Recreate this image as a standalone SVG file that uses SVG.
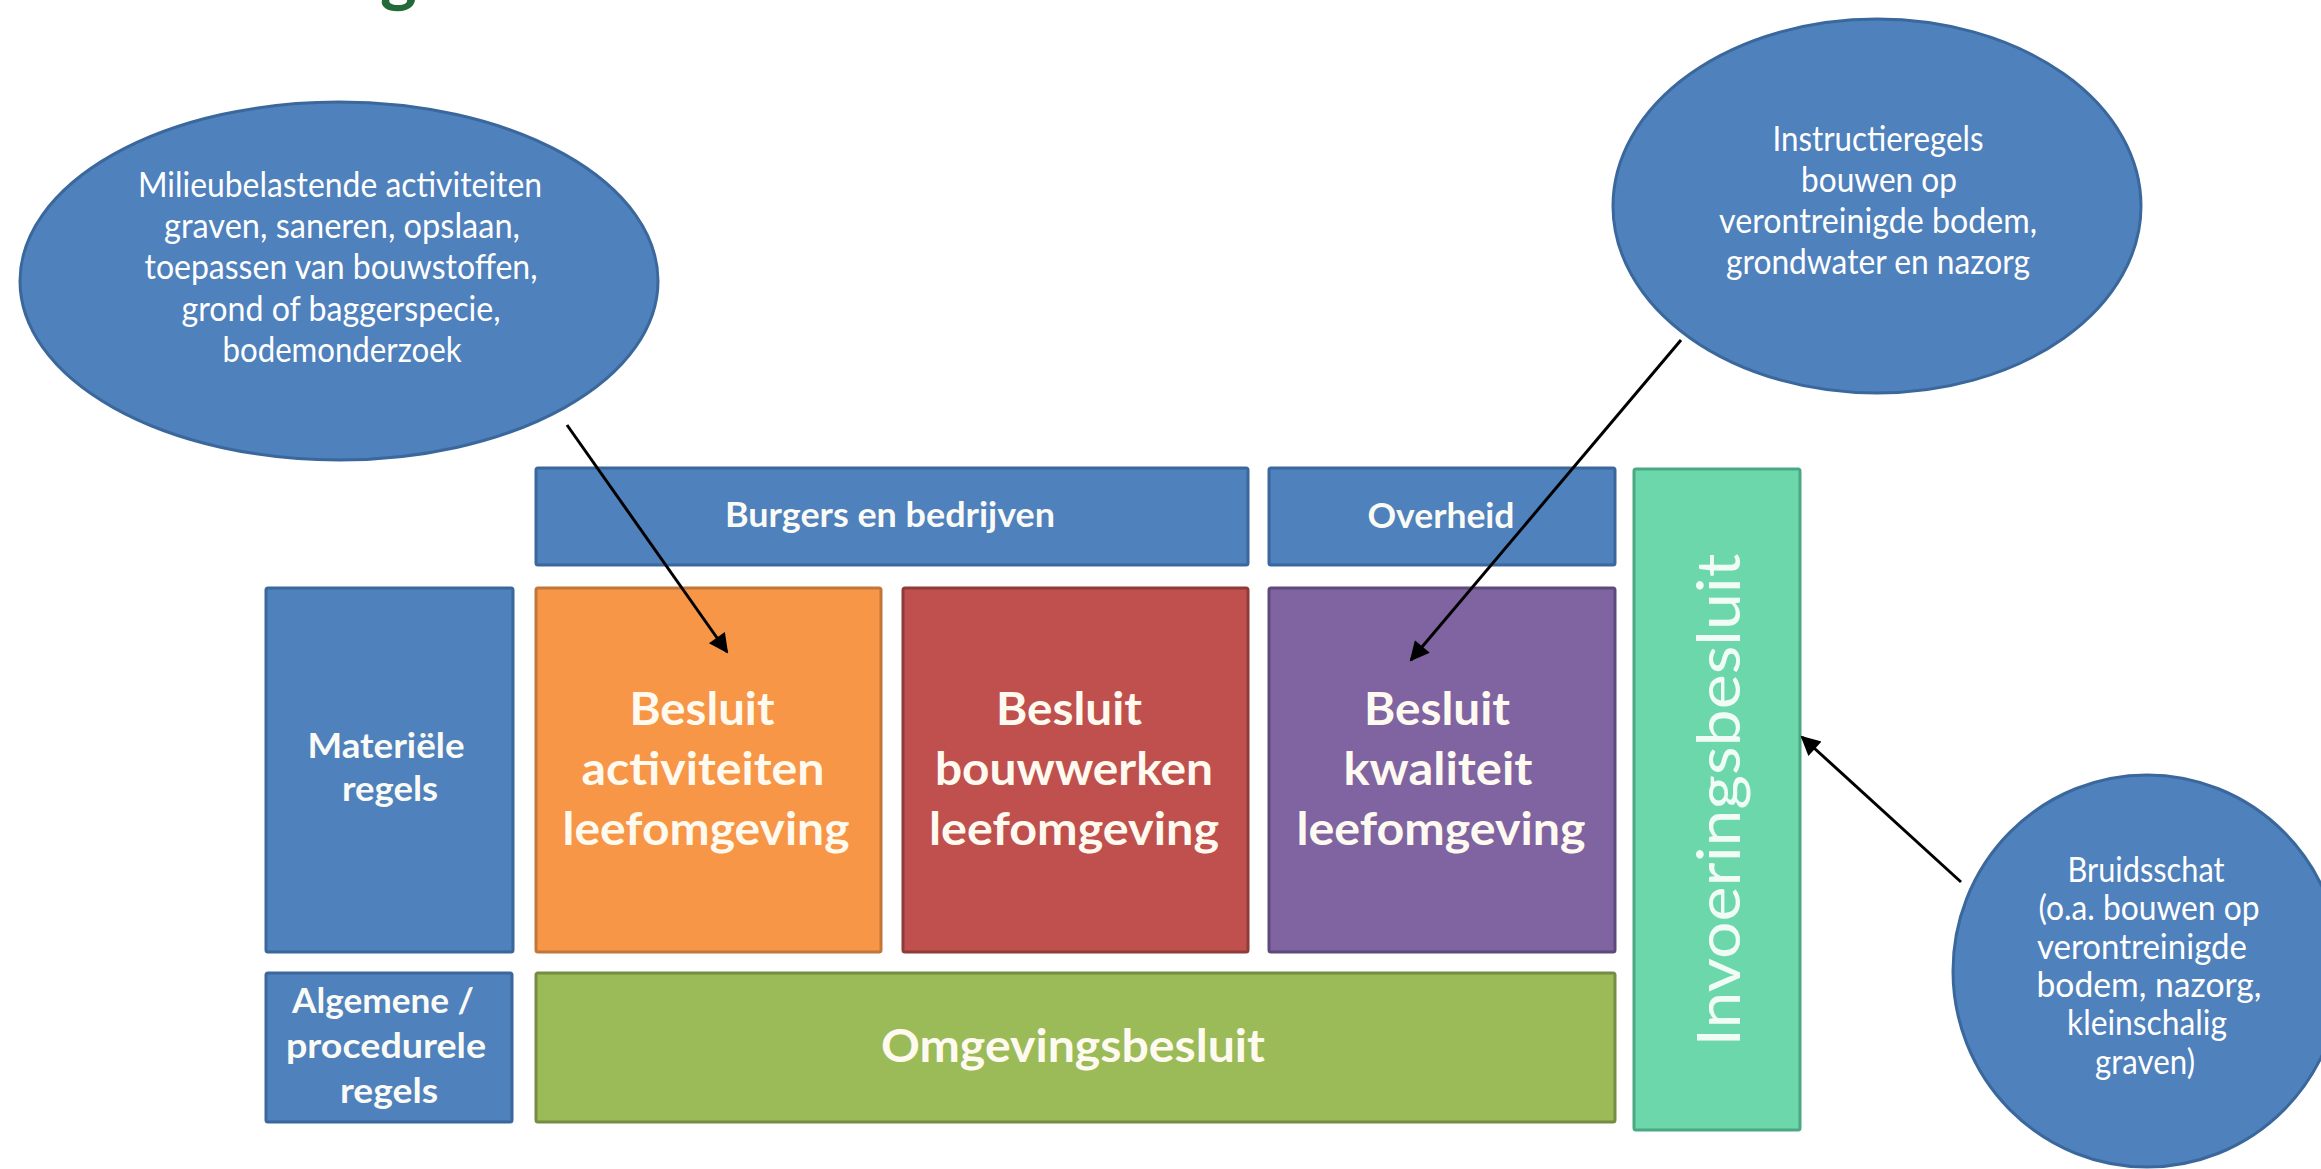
<svg xmlns="http://www.w3.org/2000/svg" width="2321" height="1169" viewBox="0 0 2321 1169">
<style>
.bg{fill:#ffffff}
.blue{fill:#4f81bd;stroke:#3a679c;stroke-width:3}
.orange{fill:#f79646;stroke:#c2773a;stroke-width:3}
.red{fill:#c0504d;stroke:#8e3b39;stroke-width:3}
.purple{fill:#8064a2;stroke:#5e4a7a;stroke-width:3}
.green{fill:#9bbb59;stroke:#748d43;stroke-width:3}
.mint{fill:#6cd7aa;stroke:#4aa883;stroke-width:3}
.et{font-family:Lato,"Liberation Sans",sans-serif;font-size:34px;fill:#ffffff;text-anchor:middle}
.st{font-family:Lato,"Liberation Sans",sans-serif;font-size:34px;font-weight:bold;fill:#fbfbf5;text-anchor:middle}
.bt{font-family:Lato,"Liberation Sans",sans-serif;font-size:46px;font-weight:bold;fill:#fffaf0;text-anchor:middle}
.vt{font-family:Lato,"Liberation Sans",sans-serif;font-size:60px;font-weight:normal;fill:#f2fcf7;text-anchor:middle}
.title{font-family:Lato,"Liberation Sans",sans-serif;font-size:70px;font-weight:bold;fill:#226a37}
.conn{stroke:#000000;stroke-width:3;fill:none;marker-end:url(#arr)}
</style>
<defs>
<marker id="arr" viewBox="0 0 10 10" refX="9" refY="5" markerWidth="7.5" markerHeight="6.5" markerUnits="strokeWidth" orient="auto">
<path d="M0,0 L10,5 L0,10 z" fill="#000000"/>
</marker>
</defs>
<rect class="bg" x="0" y="0" width="2321" height="1169"/>
<text class="title" x="380" y="-2">g</text>

<g id="ellipse-milieu">
<ellipse class="blue" cx="339" cy="281" rx="319" ry="179"/>
<text class="et" x="340" y="197" textLength="404" lengthAdjust="spacingAndGlyphs">Milieubelastende activiteiten</text>
<text class="et" x="342" y="238" textLength="356" lengthAdjust="spacingAndGlyphs">graven, saneren, opslaan,</text>
<text class="et" x="341" y="279" textLength="393" lengthAdjust="spacingAndGlyphs">toepassen van bouwstoffen,</text>
<text class="et" x="341" y="321" textLength="319" lengthAdjust="spacingAndGlyphs">grond of baggerspecie,</text>
<text class="et" x="342" y="362" textLength="239" lengthAdjust="spacingAndGlyphs">bodemonderzoek</text>
</g>

<g id="ellipse-instructie">
<ellipse class="blue" cx="1877" cy="206" rx="264" ry="187"/>
<text class="et" x="1878" y="151" textLength="211" lengthAdjust="spacingAndGlyphs">Instructieregels</text>
<text class="et" x="1879" y="192" textLength="156" lengthAdjust="spacingAndGlyphs">bouwen op</text>
<text class="et" x="1878" y="233" textLength="318" lengthAdjust="spacingAndGlyphs">verontreinigde bodem,</text>
<text class="et" x="1878" y="274" textLength="304" lengthAdjust="spacingAndGlyphs">grondwater en nazorg</text>
</g>

<g id="ellipse-bruidsschat">
<ellipse class="blue" cx="2147" cy="971" rx="194" ry="196"/>
<text class="et" x="2146" y="882" textLength="157" lengthAdjust="spacingAndGlyphs">Bruidsschat</text>
<text class="et" x="2149" y="920" textLength="221" lengthAdjust="spacingAndGlyphs">(o.a. bouwen op</text>
<text class="et" x="2142" y="959" textLength="210" lengthAdjust="spacingAndGlyphs">verontreinigde</text>
<text class="et" x="2149" y="997" textLength="225" lengthAdjust="spacingAndGlyphs">bodem, nazorg,</text>
<text class="et" x="2147" y="1035" textLength="160" lengthAdjust="spacingAndGlyphs">kleinschalig</text>
<text class="et" x="2145" y="1074" textLength="100" lengthAdjust="spacingAndGlyphs">graven)</text>
</g>

<g id="burgers">
<rect class="blue" x="536" y="468" width="712" height="97" rx="2"/>
<text class="st" x="890" y="527" textLength="330" lengthAdjust="spacingAndGlyphs">Burgers en bedrijven</text>
</g>
<g id="overheid">
<rect class="blue" x="1269" y="468" width="346" height="97" rx="2"/>
<text class="st" x="1441" y="528" textLength="147" lengthAdjust="spacingAndGlyphs">Overheid</text>
</g>
<g id="invoeringsbesluit">
<rect class="mint" x="1634" y="469" width="166" height="661" rx="2"/>
<text class="vt" transform="translate(1740,800) rotate(-90)" x="0" y="0" textLength="493" lengthAdjust="spacingAndGlyphs">Invoeringsbesluit</text>
</g>
<g id="materiele">
<rect class="blue" x="266" y="588" width="247" height="364" rx="2"/>
<text class="st" x="386" y="758" textLength="157" lengthAdjust="spacingAndGlyphs">Materiële</text>
<text class="st" x="390" y="801" textLength="96" lengthAdjust="spacingAndGlyphs">regels</text>
</g>
<g id="bal">
<rect class="orange" x="536" y="588" width="345" height="364" rx="2"/>
<text class="bt" x="702" y="725" textLength="145" lengthAdjust="spacingAndGlyphs">Besluit</text>
<text class="bt" x="703" y="785" textLength="243" lengthAdjust="spacingAndGlyphs">activiteiten</text>
<text class="bt" x="706" y="845" textLength="287" lengthAdjust="spacingAndGlyphs">leefomgeving</text>
</g>
<g id="bbl">
<rect class="red" x="903" y="588" width="345" height="364" rx="2"/>
<text class="bt" x="1069" y="725" textLength="146" lengthAdjust="spacingAndGlyphs">Besluit</text>
<text class="bt" x="1074" y="785" textLength="278" lengthAdjust="spacingAndGlyphs">bouwwerken</text>
<text class="bt" x="1074" y="845" textLength="290" lengthAdjust="spacingAndGlyphs">leefomgeving</text>
</g>
<g id="bkl">
<rect class="purple" x="1269" y="588" width="346" height="364" rx="2"/>
<text class="bt" x="1437" y="725" textLength="146" lengthAdjust="spacingAndGlyphs">Besluit</text>
<text class="bt" x="1438" y="785" textLength="189" lengthAdjust="spacingAndGlyphs">kwaliteit</text>
<text class="bt" x="1441" y="845" textLength="289" lengthAdjust="spacingAndGlyphs">leefomgeving</text>
</g>
<g id="algemene">
<rect class="blue" x="266" y="973" width="246" height="149" rx="2"/>
<text class="st" x="383" y="1013" textLength="182" lengthAdjust="spacingAndGlyphs">Algemene /</text>
<text class="st" x="386" y="1058" textLength="200" lengthAdjust="spacingAndGlyphs">procedurele</text>
<text class="st" x="389" y="1103" textLength="98" lengthAdjust="spacingAndGlyphs">regels</text>
</g>
<g id="omgevingsbesluit">
<rect class="green" x="536" y="973" width="1079" height="149" rx="2"/>
<text class="bt" x="1073" y="1062" textLength="384" lengthAdjust="spacingAndGlyphs">Omgevingsbesluit</text>
</g>

<g id="connectors">
<line class="conn" x1="567" y1="425" x2="727" y2="652"/>
<line class="conn" x1="1681" y1="340" x2="1411" y2="660"/>
<line class="conn" x1="1961" y1="882" x2="1802" y2="737"/>
</g>
</svg>
